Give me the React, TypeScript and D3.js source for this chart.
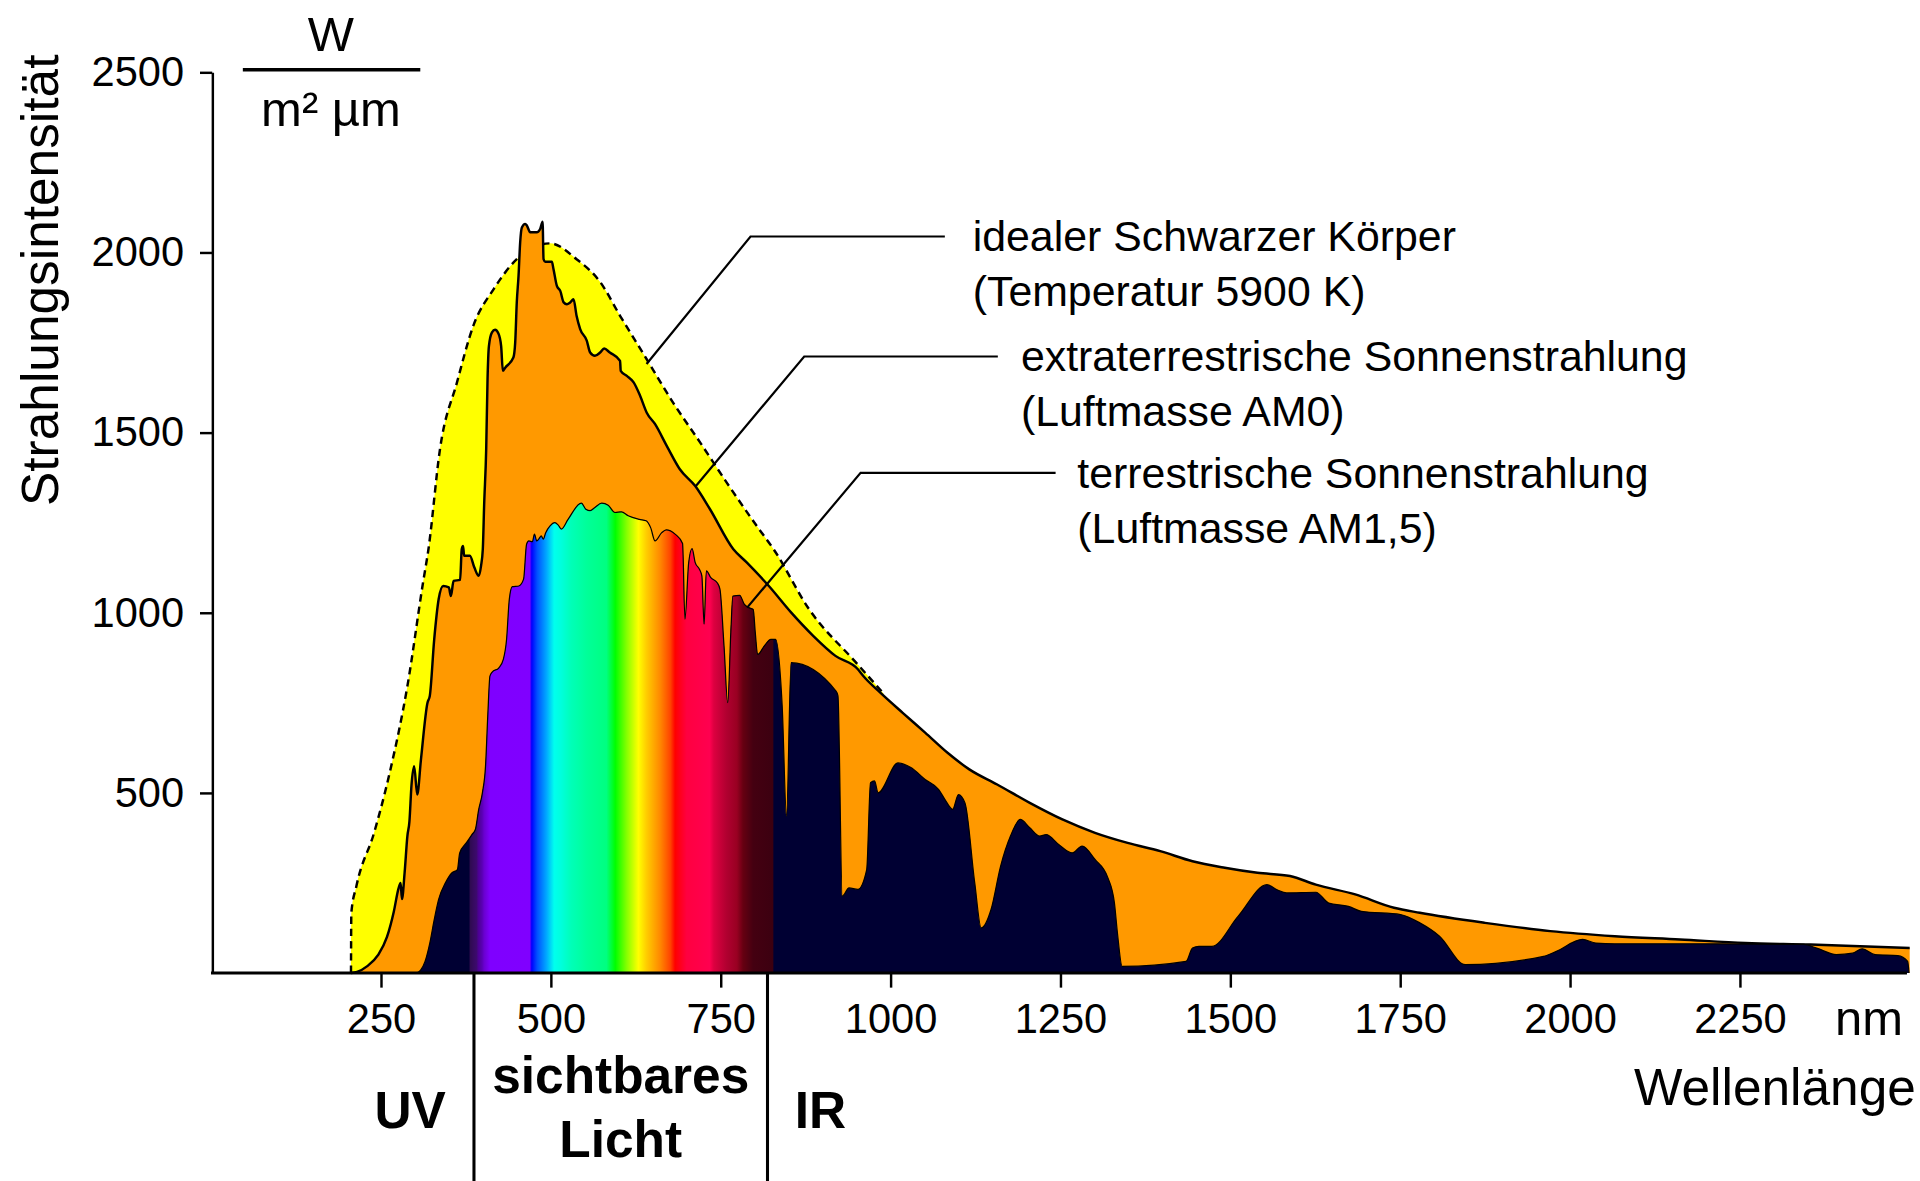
import * as d3 from 'd3';
import { useEffect, useRef } from 'react';

const WIDTH = 1568;
const HEIGHT = 965;
const FONT = '"Liberation Sans", Arial, Helvetica, sans-serif';

// wavelength (nm), spectral irradiance (W / m² µm)
const blackbody: [number, number][] = [
  [206, 0], [206.5, 167], [214, 241], [240, 389], [263, 556], [289, 796], [312, 1083], [320, 1176],
  [337, 1454], [362, 1639], [386, 1796], [416, 1898], [450, 1981], [499, 2025], [538, 1981],
  [573, 1917], [602, 1824], [641, 1704], [680, 1583], [720, 1472], [759, 1361], [803, 1241],
  [828, 1176], [880, 1010], [950, 860], [990, 775]
];

const am0: [number, number][] = [
  [206, 0], [215, 3], [230, 19], [246, 50], [259, 100], [269, 170], [276, 235], [279, 250], [281, 205],
  [285, 280], [289, 380], [292, 420], [295, 520], [299, 574], [303.5, 495], [309, 593], [318.6, 750],
  [322, 769], [328.5, 926], [335, 1037], [341.6, 1074], [350, 1070], [353, 1046], [357, 1088],
  [366.6, 1091], [369, 1176], [371, 1185], [372.5, 1158], [381, 1158], [387.6, 1125], [394, 1102],
  [397.4, 1130], [400, 1176], [402, 1300], [405, 1454], [407, 1650], [409, 1740], [413.5, 1778],
  [418, 1785], [423, 1775], [427, 1740], [429.5, 1671], [433, 1680], [445, 1708], [447.7, 1750],
  [450, 1861], [452.6, 1935], [455, 2028], [457.5, 2069], [462.4, 2079], [465, 2074], [469.7, 2056],
  [479.5, 2056], [484.4, 2065], [488, 2085], [489.4, 1981], [491.8, 1974], [501.6, 1974], [504, 1954],
  [509, 1907], [514, 1893], [519, 1861], [523.7, 1856], [528.6, 1861], [533.5, 1870], [538, 1824],
  [543.3, 1787], [553, 1755], [558, 1722], [565, 1713], [572.7, 1722], [578.6, 1733], [587, 1722],
  [602, 1699], [603, 1671], [612, 1657], [622, 1639], [631.5, 1602], [641.3, 1555], [653.6, 1523],
  [670.7, 1463], [690, 1398], [712.4, 1352], [734.4, 1287], [768.8, 1176], [788, 1140], [821, 1074],
  [854, 1000], [886.6, 935], [919, 880], [952, 843], [960, 824], [985, 778], [1018, 722], [1051, 667],
  [1084, 611], [1116, 565], [1157, 523], [1205, 472], [1253, 426], [1301, 389], [1349, 361],
  [1397, 338], [1444.5, 310], [1492, 292], [1540, 278], [1588, 269], [1626, 245], [1684, 218],
  [1741, 181], [1779, 167], [1875, 139], [1971, 116], [2066, 102], [2162, 93], [2258, 83],
  [2354, 79], [2500, 69]
];

const am15: [number, number][] = [
  [290, 0], [303, 0], [309, 9], [315, 32], [322, 83], [328.5, 148], [335, 204], [345, 250],
  [354.7, 278], [362.6, 287], [366, 333], [375.7, 361], [384, 384], [389, 398], [394, 454],
  [399.4, 500], [404, 574], [407.3, 713], [410.5, 824], [413.8, 835], [423.7, 847], [430.3, 871],
  [435, 926], [439, 1037], [443.4, 1072], [453, 1074], [460, 1093], [464.4, 1190], [467.7, 1199],
  [473, 1197], [476, 1218], [479.5, 1199], [483, 1206], [486, 1213], [489, 1204], [492.6, 1222],
  [499, 1241], [506, 1250], [511, 1243], [515.6, 1232], [525.5, 1259], [545, 1304], [551.7, 1287],
  [558, 1283], [565, 1292], [575, 1304], [584.5, 1298], [594.4, 1278], [604, 1280], [614, 1269],
  [630.5, 1259], [640.4, 1255], [647, 1236], [653.5, 1199], [663.3, 1222], [670, 1230], [683, 1218],
  [694, 1192], [697.5, 982], [703, 1139], [708, 1178], [712.6, 1139], [719, 1120], [722.4, 1102],
  [725.7, 968], [729, 1116], [735.6, 1097], [745, 1083], [749, 1065], [755, 908], [760.5, 750],
  [765, 945], [768, 1046], [778, 1048], [785, 1023], [791.4, 1014], [798, 1009], [801, 945],
  [804.5, 884], [814.4, 908], [824, 926], [830.8, 926], [840.6, 741], [847, 435], [853.8, 861],
  [919.5, 783], [922.7, 769], [929, 213], [939, 236], [952, 232], [965, 287], [970.6, 528],
  [976.5, 533], [981.8, 500], [1011, 583], [1030, 570], [1051, 537], [1071, 509], [1080, 482],
  [1091.5, 454], [1100, 495], [1109.6, 472], [1124, 250], [1133.5, 125], [1148, 176], [1162, 296],
  [1176.6, 380], [1191, 426], [1205, 403], [1219.6, 380], [1229, 384], [1248, 356], [1267.5, 333],
  [1282, 352], [1301, 315], [1320, 264], [1329.6, 194], [1334, 111], [1341, 18], [1435, 32],
  [1444.5, 69], [1454, 74], [1473, 74], [1511.5, 157], [1554, 245], [1569, 231], [1583, 222],
  [1626, 224], [1645, 194], [1674, 185], [1693, 171], [1750.6, 162], [1779, 139], [1808, 102],
  [1846, 23], [1961, 46], [1980, 60], [2018.6, 93], [2038, 83], [2066, 81], [2162, 81], [2344, 79],
  [2363, 69], [2392, 51], [2416, 55], [2430, 67], [2449, 51], [2482.6, 48], [2497, 32], [2499, 0]
];

// colour of the visible band, by wavelength
const spectrumStops: [number, string][] = [
  [380.5, '#2e0a4e'], [391, '#3d0a6e'], [393, '#4b0090'], [399, '#5a00b4'], [402, '#6a00d0'],
  [411, '#7f00ff'], [469, '#8000ff'], [472, '#0000ff'], [480, '#0050ff'], [494, '#00aaff'],
  [505, '#00ffee'], [515, '#00ffdd'], [530, '#00ffb8'], [553, '#00ff99'], [582, '#00ff80'],
  [595, '#00ff00'], [612, '#88ff00'], [629, '#ffff00'], [641, '#ffcc00'], [661, '#ff8800'],
  [676, '#ff4400'], [683, '#ff0000'], [700, '#ff0040'], [734, '#ff0050'], [740, '#dd0040'],
  [759, '#b00030'], [774, '#990022'], [783, '#660011'], [798, '#440011'], [827.5, '#3c0010']
];
const VISIBLE_FROM = 380.5;
const VISIBLE_TO = 827.6;
const UV_LIMIT = 387;
const IR_LIMIT = 819;

const xTicks = [250, 500, 750, 1000, 1250, 1500, 1750, 2000, 2250];
const yTicks = [500, 1000, 1500, 2000, 2500];

const annotations = [
  { lines: ['idealer Schwarzer Körper', '(Temperatur 5900 K)'], from: [641, 1690], elbow: [794, 2044], end: 1080, textX: 1121 },
  { lines: ['extraterrestrische Sonnenstrahlung', '(Luftmasse AM0)'], from: [713, 1350], elbow: [873, 1711], end: 1158, textX: 1192 },
  { lines: ['terrestrische Sonnenstrahlung', '(Luftmasse AM1,5)'], from: [789, 1014], elbow: [956, 1388], end: 1243, textX: 1275 }
];

function SolarSpectrum() {
  const svgRef = useRef<SVGSVGElement>(null);

  useEffect(() => {
    if (!svgRef.current) { return; }
    const svg = d3.select(svgRef.current);
    svg.selectAll('*').remove();

    const x = d3.scaleLinear().domain([0, 2500]).range([172, 1560]);
    const y = d3.scaleLinear().domain([0, 2500]).range([795, 59]);

    const area = d3.area<[number, number]>()
      .x(d => x(d[0]))
      .y0(y(0))
      .y1(d => y(d[1]))
      .curve(d3.curveMonotoneX);
    const line = d3.line<[number, number]>()
      .x(d => x(d[0]))
      .y(d => y(d[1]))
      .curve(d3.curveMonotoneX);

    const defs = svg.append('defs');
    const grad = defs.append('linearGradient')
      .attr('id', 'spectrum')
      .attr('gradientUnits', 'userSpaceOnUse')
      .attr('x1', x(VISIBLE_FROM)).attr('x2', x(VISIBLE_TO))
      .attr('y1', 0).attr('y2', 0);
    spectrumStops.forEach(([nm, color]) => {
      grad.append('stop')
        .attr('offset', (nm - VISIBLE_FROM) / (VISIBLE_TO - VISIBLE_FROM))
        .attr('stop-color', color);
    });
    defs.append('clipPath').attr('id', 'visible')
      .append('rect')
      .attr('x', x(VISIBLE_FROM)).attr('y', 0)
      .attr('width', x(VISIBLE_TO) - x(VISIBLE_FROM)).attr('height', y(0));

    // black body
    svg.append('path').attr('d', area(blackbody)).attr('fill', '#ffff00');
    svg.append('path').attr('d', line(blackbody))
      .attr('fill', 'none').attr('stroke', '#000').attr('stroke-width', 2)
      .attr('stroke-dasharray', '6,4');

    // AM0
    svg.append('path').attr('d', area(am0)).attr('fill', '#ff9900');
    svg.append('path').attr('d', line(am0))
      .attr('fill', 'none').attr('stroke', '#000').attr('stroke-width', 2);

    // AM1.5
    svg.append('path').attr('d', area(am15)).attr('fill', '#000033');
    svg.append('path').attr('d', area(am15)).attr('fill', 'url(#spectrum)')
      .attr('clip-path', 'url(#visible)');
    svg.append('path').attr('d', line(am15))
      .attr('fill', 'none').attr('stroke', '#000').attr('stroke-width', 1);

    // axes
    const xAxis = svg.append('g')
      .attr('transform', `translate(0,${y(0)})`)
      .call(d3.axisBottom(x).tickValues(xTicks).tickFormat(d3.format('d')).tickSize(12).tickSizeOuter(0).tickPadding(13));
    xAxis.select('.domain').attr('stroke-width', 2.5).attr('d', `M${x(0)},0H${x(2496)}`);
    xAxis.selectAll('.tick line').attr('stroke-width', 2);
    xAxis.selectAll('text').attr('font-size', 34).attr('font-family', FONT).attr('fill', '#000');

    const yAxis = svg.append('g')
      .attr('transform', `translate(${x(0) + 1},0)`)
      .call(d3.axisLeft(y).tickValues(yTicks).tickFormat(d3.format('d')).tickSize(10).tickSizeOuter(0).tickPadding(13));
    yAxis.select('.domain').attr('stroke-width', 2);
    yAxis.selectAll('.tick line').attr('stroke-width', 2);
    yAxis.selectAll('text').attr('font-size', 34).attr('font-family', FONT).attr('fill', '#000');

    // UV / visible / IR boundaries
    [UV_LIMIT, IR_LIMIT].forEach(nm => {
      svg.append('line')
        .attr('x1', x(nm)).attr('x2', x(nm))
        .attr('y1', y(0)).attr('y2', HEIGHT)
        .attr('stroke', '#000').attr('stroke-width', 2.5);
    });

    const text = (tx: number, ty: number, s: string, size: number, anchor = 'middle', weight = 'normal') =>
      svg.append('text')
        .attr('x', tx).attr('y', ty)
        .attr('text-anchor', anchor)
        .attr('font-family', FONT)
        .attr('font-size', size)
        .attr('font-weight', weight)
        .attr('fill', '#000')
        .text(s);

    text(x(293), 922, 'UV', 42, 'middle', 'bold');
    text(x((UV_LIMIT + IR_LIMIT) / 2), 893, 'sichtbares', 42, 'middle', 'bold');
    text(x((UV_LIMIT + IR_LIMIT) / 2), 945, 'Licht', 42, 'middle', 'bold');
    text(x(897), 922, 'IR', 42, 'middle', 'bold');
    text(x(2440), 846, 'nm', 40);
    text(x(2500) + 5, 903, 'Wellenlänge', 42, 'end');

    svg.append('text')
      .attr('transform', `translate(47,${(y(2500) + 415) / 2 - 8}) rotate(-90)`)
      .attr('text-anchor', 'middle')
      .attr('font-family', FONT)
      .attr('font-size', 42)
      .attr('fill', '#000')
      .text('Strahlungsintensität');

    // unit
    text(270, 42, 'W', 40);
    svg.append('line')
      .attr('x1', 198).attr('x2', 343).attr('y1', 57).attr('y2', 57)
      .attr('stroke', '#000').attr('stroke-width', 3);
    text(270, 103, 'm² µm', 40);

    // leaders + labels
    annotations.forEach(a => {
      svg.append('path')
        .attr('d', `M${x(a.from[0])},${y(a.from[1])}L${x(a.elbow[0])},${y(a.elbow[1])}H${x(a.end)}`)
        .attr('fill', 'none').attr('stroke', '#000').attr('stroke-width', 1.8);
      a.lines.forEach((s, i) => {
        text(x(a.textX), y(a.elbow[1]) + 12 + i * 45, s, 35, 'start');
      });
    });
  }, []);

  return (
    <svg
      ref={svgRef}
      width={1920}
      height={1181}
      viewBox={`0 0 ${WIDTH} ${HEIGHT}`}
      style={{ position: 'absolute', left: 0, top: 0, display: 'block', background: '#fff' }}
    />
  );
}

export default function App() {
  return <SolarSpectrum />;
}
